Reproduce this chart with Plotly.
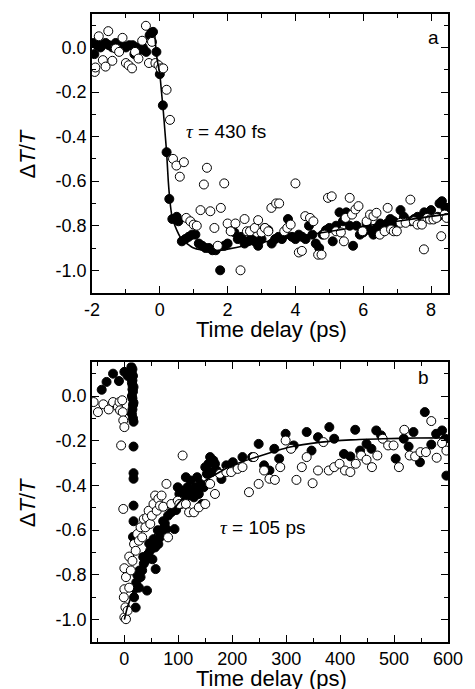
import plotly.graph_objects as go

# ---------------- Panel a data (ps, ΔT/T) ----------------
t_a_filled = [-1.95, -1.93, -1.85, -1.75, -1.7, -1.6, -1.5, -1.4, -1.3, -1.2, -1.1, -1.0, -0.9, -0.8,
              -0.75, -0.65, -0.55, -0.5, -0.4, -0.3, -0.25, -0.2, -0.1, 0.0, 0.09, 0.2, 0.28, 0.37, 0.5,
              0.55, 0.65, 0.75, 0.85, 0.95, 1.05, 1.15, 1.25, 1.35, 1.45, 1.55, 1.65, 1.78, 1.9, 2.0,
              2.1, 2.2, 2.3, 2.4, 2.5, 2.6, 2.7, 2.8, 2.9, 3.0, 3.1, 3.2, 3.3, 3.4, 3.5, 3.6, 3.7, 3.78,
              3.9, 4.0, 4.1, 4.2, 4.3, 4.4, 4.5, 4.6, 4.7, 4.8, 4.9, 5.0, 5.1, 5.2, 5.3, 5.4, 5.5, 5.6,
              5.7, 5.8, 5.9, 6.0, 6.1, 6.2, 6.3, 6.4, 6.5, 6.6, 6.7, 6.8, 6.9, 7.0, 7.1, 7.2, 7.4, 7.5,
              7.6, 7.8, 8.0, 8.2, 8.25, 8.32, 8.42]
dT_a_filled = [0.02, -0.03, 0.01, 0.0, 0.01, 0.02, 0.01, 0.0, 0.02, 0.01, 0.01, 0.0, 0.01, 0.01,
               -0.03, 0.0, -0.01, 0.0, -0.02, 0.055, 0.065, 0.07, -0.02, -0.12, -0.26, -0.47, -0.68, -0.77, -0.76,
               -0.78, -0.87, -0.86, -0.85, -0.84, -0.84, -0.88, -0.89, -0.9, -0.9, -0.91, -0.91, -1.0, -0.89, -0.88,
               -0.82, -0.83, -0.86, -0.85, -0.88, -0.87, -0.86, -0.87, -0.89, -0.86, -0.81, -0.82, -0.88, -0.86, -0.85, -0.86, -0.84, -0.77,
               -0.85, -0.86, -0.84, -0.85, -0.86, -0.8, -0.84, -0.88, -0.9, -0.84, -0.82, -0.81, -0.87, -0.8, -0.74, -0.78, -0.74, -0.8,
               -0.89, -0.8, -0.84, -0.83, -0.79, -0.82, -0.84, -0.81, -0.79, -0.8, -0.79, -0.77, -0.78, -0.79, -0.73, -0.76, -0.78, -0.77,
               -0.76, -0.74, -0.73, -0.76, -0.7, -0.69, -0.72]

t_a_open = [-1.92, -1.9, -1.8, -1.68, -1.6, -1.52, -1.4, -1.3, -1.2, -1.1, -1.0, -0.92, -0.82, -0.73,
            -0.63, -0.52, -0.41, -0.32, -0.23, -0.13, -0.04, 0.02, 0.1, 0.2, 0.3, 0.39, 0.49, 0.59, 0.71,
            0.78, 0.9, 1.0, 1.09, 1.2, 1.3, 1.39, 1.49, 1.61, 1.71, 1.8, 1.9, 2.0, 2.09, 2.23, 2.38, 2.5,
            2.57, 2.66, 2.8, 2.9, 3.0, 3.1, 3.2, 3.29, 3.43, 3.52, 3.67, 3.76, 3.86, 4.0, 4.1, 4.19, 4.29,
            4.43, 4.53, 4.67, 4.77, 4.86, 4.96, 5.07, 5.2, 5.34, 5.43, 5.48, 5.6, 5.67, 5.77, 5.86, 5.98,
            6.1, 6.2, 6.3, 6.39, 6.49, 6.63, 6.72, 6.82, 6.9, 6.99, 7.1, 7.25, 7.39, 7.49, 7.6, 7.73, 7.79,
            7.89, 7.97, 8.07, 8.16, 8.3, 8.4, 8.46]
dT_a_open = [-0.11, -0.09, 0.05, -0.057, -0.086, 0.073, -0.06, -0.005, -0.02, 0.043, -0.07, -0.08, -0.094, -0.02,
             -0.05, 0.03, 0.097, -0.07, 0.025, -0.07, -0.08, -0.094, -0.094, -0.19, -0.325, -0.5, -0.53, -0.58, -0.515,
             -0.765, -0.78, -0.795, -0.8, -0.73, -0.615, -0.54, -0.735, -0.81, -0.89, -0.72, -0.61, -0.79, -0.825, -0.79, -1.0, -0.77,
             -0.825, -0.825, -0.81, -0.775, -0.83, -0.81, -0.825, -0.72, -0.70, -0.70, -0.825, -0.81, -0.795, -0.61, -0.92, -0.913, -0.757,
             -0.765, -0.78, -0.93, -0.93, -0.84, -0.675, -0.668, -0.825, -0.83, -0.87, -0.765, -0.675, -0.75, -0.727, -0.712, -0.825,
             -0.78, -0.75, -0.757, -0.742, -0.84, -0.825, -0.72, -0.817, -0.825, -0.825, -0.787, -0.787, -0.683, -0.78, -0.795, -0.795, -0.906,
             -0.765, -0.772, -0.772, -0.765, -0.847, -0.75, -0.765]

t_a_fit = [-0.15, -0.1, -0.05, 0.0, 0.05, 0.1, 0.15, 0.2, 0.25, 0.3, 0.35, 0.4, 0.5, 0.6, 0.7, 0.8, 1.0,
           1.2, 1.5, 1.8, 2.0, 2.5, 3.0, 4.0, 5.0, 6.0, 7.0, 8.0, 8.5]
dT_a_fit = [0.06, -0.03, -0.08, -0.12, -0.2, -0.28, -0.375, -0.47, -0.6, -0.69, -0.75, -0.78, -0.82, -0.85, -0.867, -0.88, -0.9,
            -0.908, -0.913, -0.91, -0.905, -0.89, -0.875, -0.85, -0.826, -0.802, -0.78, -0.758, -0.748]

# ---------------- Panel b data (ps, ΔT/T) ----------------
t_b_filled = [-42, -33, -21, -10, 0, 6,
              13, 15, 14, 16, 15, 14, 17, 15, 16, 14, 15, 17, 16, 15, 14, 16, 17, 15, 17, 17, 17, 17, 17, 16,
              18, 21, 22, 27, 30, 33, 36, 39, 42, 44, 48, 52, 57, 58, 63, 66, 69, 75, 78, 81, 87, 93, 96, 99,
              102, 105, 108, 111, 114, 117, 120, 123, 126, 129, 132, 135, 138, 141, 144, 147, 150, 153, 156, 159,
              162, 165, 168, 171, 180, 189, 201, 219, 237, 249, 259, 269, 278, 287, 299, 314, 338, 347, 359,
              380, 389, 407, 419, 428, 437, 449, 458, 467, 476, 503, 518, 527, 536, 548, 557, 569, 578, 589, 595, 597,
              20, 24, 28, 35, 46, 54, 62, 72]
dT_b_filled = [0.028, 0.063, 0.10, 0.067, 0.108, 0.09,
               0.13, 0.12, 0.10, 0.09, 0.07, 0.06, 0.04, 0.03, 0.02, 0.0, -0.01, -0.03, -0.04, -0.06, -0.08, -0.1, -0.115, 0.05, -0.226, -0.345, -0.37, -0.49, -0.56, -0.63,
               -0.90, -0.946, -0.834, -0.857, -0.81, -0.78, -0.75, -0.737, -0.87, -0.707, -0.69, -0.73, -0.677, -0.774, -0.662, -0.632, -0.60, -0.57, -0.595, -0.535, -0.52, -0.595, -0.51, -0.408,
               -0.438, -0.483, -0.423, -0.453, -0.363, -0.408, -0.445, -0.378, -0.423, -0.453, -0.408, -0.363, -0.438, -0.393, -0.483, -0.408, -0.318, -0.348, -0.303, -0.273,
               -0.34, -0.288, -0.303, -0.333, -0.371, -0.31, -0.296, -0.273, -0.273, -0.214, -0.31, -0.333, -0.236, -0.28, -0.169, -0.221, -0.161, -0.244, -0.184,
               -0.139, -0.191, -0.259, -0.27, -0.151, -0.244, -0.214, -0.236, -0.154, -0.176, -0.28, -0.191, -0.226, -0.161, -0.296, -0.072, -0.217, -0.169, -0.154, -0.191, -0.356,
               -0.86, -0.80, -0.78, -0.72, -0.66, -0.64, -0.60, -0.56]

t_b_open = [-57, -49, -39, -29, -21, -12, -9, -8, -4, -3, -2, 0, -6, -2,
            0, 3, 0, -1, 2, 0, 3, 6, 9, 12, 9, 15, 18, 21, 24, 27, 30, 33, 36, 39, 42, 45, 48, 51, 54, 57, 60,
            63, 66, 69, 72, 78, 81, 87, 99, 102, 108, 114, 120, 129, 138, 150, 159, 168, 177, 189, 198, 210, 219,
            231, 240, 249, 259, 269, 279, 289, 299, 309, 319, 329, 338, 349, 359, 369, 379, 389, 399, 409, 419, 429,
            439, 449, 459, 469, 479, 489, 499, 509, 519, 529, 539, 549, 559, 569, 579, 589, 597]
dT_b_open = [-0.027, -0.072, -0.037, -0.06, -0.027, -0.049, -0.027, -0.064, -0.019, -0.072, -0.109, -0.139, -0.221, -0.505,
             -0.77, -0.81, -0.864, -0.9, -0.945, -0.99, -0.998, -0.96, -0.857, -0.78, -0.718, -0.737, -0.662, -0.692, -0.617, -0.647, -0.587, -0.632, -0.55, -0.587, -0.543, -0.513, -0.572, -0.535, -0.483, -0.445, -0.513,
             -0.46, -0.49, -0.445, -0.495, -0.393, -0.632, -0.483, -0.468, -0.483, -0.266, -0.483, -0.52, -0.52, -0.498, -0.483, -0.393, -0.438, -0.348, -0.34, -0.34, -0.326, -0.318,
             -0.43, -0.273, -0.393, -0.333, -0.37, -0.375, -0.318, -0.199, -0.236, -0.375, -0.318, -0.273, -0.39, -0.333, -0.206, -0.333, -0.318, -0.303, -0.333, -0.34, -0.303,
             -0.266, -0.285, -0.318, -0.266, -0.191, -0.221, -0.221, -0.318, -0.151, -0.266, -0.27, -0.251, -0.251, -0.112, -0.276, -0.211, -0.244]

t_b_fit = [0, 5, 10, 15, 20, 25, 33, 45, 57, 70, 81, 100, 125, 150, 176, 200, 245, 305, 365, 420, 480, 540, 600]
dT_b_fit = [-1.0, -0.95, -0.915, -0.886, -0.85, -0.815, -0.752, -0.68, -0.617, -0.572, -0.542, -0.48, -0.423, -0.378,
            -0.341, -0.31, -0.273, -0.229, -0.206, -0.196, -0.191, -0.188, -0.187]

# ---------------- Axis ticks ----------------
y_tickvals = [0.0, -0.2, -0.4, -0.6, -0.8, -1.0]
y_ticktext = ["0.0", "-0.2", "-0.4", "-0.6", "-0.8", "-1.0"]
xa_tickvals = [-2, 0, 2, 4, 6, 8]
xa_ticktext = ["-2", "0", "2", "4", "6", "8"]
xb_tickvals = [0, 100, 200, 300, 400, 500, 600]
xb_ticktext = ["0", "100", "200", "300", "400", "500", "600"]

FONT = "Liberation Sans, Arial, sans-serif"
MS = 9

fig = go.Figure()

def add_panel(xs, ys, xo, yo, xf, yf, xa, ya):
    fig.add_trace(go.Scatter(x=xs, y=ys, mode="markers", xaxis=xa, yaxis=ya,
                             marker=dict(size=MS, color="black", line=dict(color="black", width=1)),
                             showlegend=False, hoverinfo="skip"))
    fig.add_trace(go.Scatter(x=xo, y=yo, mode="markers", xaxis=xa, yaxis=ya,
                             marker=dict(size=MS, color="white", line=dict(color="black", width=1)),
                             showlegend=False, hoverinfo="skip"))
    fig.add_trace(go.Scatter(x=xf, y=yf, mode="lines", xaxis=xa, yaxis=ya,
                             line=dict(color="black", width=1.6, shape="spline", smoothing=0.6),
                             showlegend=False, hoverinfo="skip"))

add_panel(t_a_filled, dT_a_filled, t_a_open, dT_a_open, t_a_fit, dT_a_fit, "x", "y")
add_panel(t_b_filled, dT_b_filled, t_b_open, dT_b_open, t_b_fit, dT_b_fit, "x2", "y2")

axis_common = dict(showline=True, linecolor="black", linewidth=1.6, mirror="ticks",
                   ticks="inside", ticklen=7, tickwidth=1.4, tickcolor="black",
                   showgrid=False, zeroline=False,
                   tickfont=dict(family=FONT, size=18, color="black"))

fig.update_layout(
    width=475, height=689,
    margin=dict(l=92, r=16, t=13, b=47),
    paper_bgcolor="white", plot_bgcolor="white",
    xaxis=dict(domain=[0, 1], anchor="y", range=[-2, 8.5], tickmode="array",
               tickvals=xa_tickvals, ticktext=xa_ticktext,
               minor=dict(ticks="inside", ticklen=4, tickwidth=1.2, tickcolor="black", dtick=1, tick0=0),
               **axis_common),
    yaxis=dict(domain=[0.5564, 1], anchor="x", range=[-1.1, 0.15], tickmode="array",
               tickvals=y_tickvals, ticktext=y_ticktext,
               minor=dict(ticks="inside", ticklen=4, tickwidth=1.2, tickcolor="black", dtick=0.1, tick0=0),
               **axis_common),
    xaxis2=dict(domain=[0, 1], anchor="y2", range=[-60, 600], tickmode="array",
                tickvals=xb_tickvals, ticktext=xb_ticktext,
                minor=dict(ticks="inside", ticklen=4, tickwidth=1.2, tickcolor="black", dtick=50, tick0=0),
                **axis_common),
    yaxis2=dict(domain=[0, 0.4451], anchor="x2", range=[-1.1, 0.15], tickmode="array",
                tickvals=y_tickvals, ticktext=y_ticktext,
                minor=dict(ticks="inside", ticklen=4, tickwidth=1.2, tickcolor="black", dtick=0.1, tick0=0),
                **axis_common),
)

title_font = dict(family=FONT, size=22, color="black")
ann = []
# x-axis titles
ann.append(dict(text="Time delay (ps)", xref="paper", yref="paper", x=0.505, y=0.497,
                xanchor="center", yanchor="middle", showarrow=False, font=title_font))
ann.append(dict(text="Time delay (ps)", xref="paper", yref="paper", x=0.505, y=-0.058,
                xanchor="center", yanchor="middle", showarrow=False, font=title_font))
# y-axis titles
ytitle = "Δ<i>T</i>/<i>T</i>"
ann.append(dict(text=ytitle, xref="paper", yref="paper", x=-0.1826, y=0.778, textangle=-90,
                xanchor="center", yanchor="middle", showarrow=False, font=title_font))
ann.append(dict(text=ytitle, xref="paper", yref="paper", x=-0.1826, y=0.2226, textangle=-90,
                xanchor="center", yanchor="middle", showarrow=False, font=title_font))
# tau labels
tau = "<span style='font-family:\"Liberation Serif\", \"Times New Roman\", serif'><i>τ</i></span>"
ann.append(dict(text=tau + " = 430 fs", xref="x", yref="y", x=0.72, y=-0.377,
                xanchor="left", yanchor="middle", showarrow=False, font=dict(family=FONT, size=19, color="black")))
ann.append(dict(text=tau + " = 105 ps", xref="x2", yref="y2", x=173, y=-0.587,
                xanchor="left", yanchor="middle", showarrow=False, font=dict(family=FONT, size=19, color="black")))
# panel letters
ann.append(dict(text="a", xref="x", yref="y", x=8.07, y=0.045, xanchor="center", yanchor="middle",
                showarrow=False, font=dict(family=FONT, size=19, color="black")))
ann.append(dict(text="b", xref="x2", yref="y2", x=554, y=0.085, xanchor="center", yanchor="middle",
                showarrow=False, font=dict(family=FONT, size=19, color="black")))

fig.update_layout(annotations=ann)

fig.write_html("out.html", config={"displayModeBar": False},
               post_script="document.body.style.margin='0';document.body.style.overflow='hidden';")
